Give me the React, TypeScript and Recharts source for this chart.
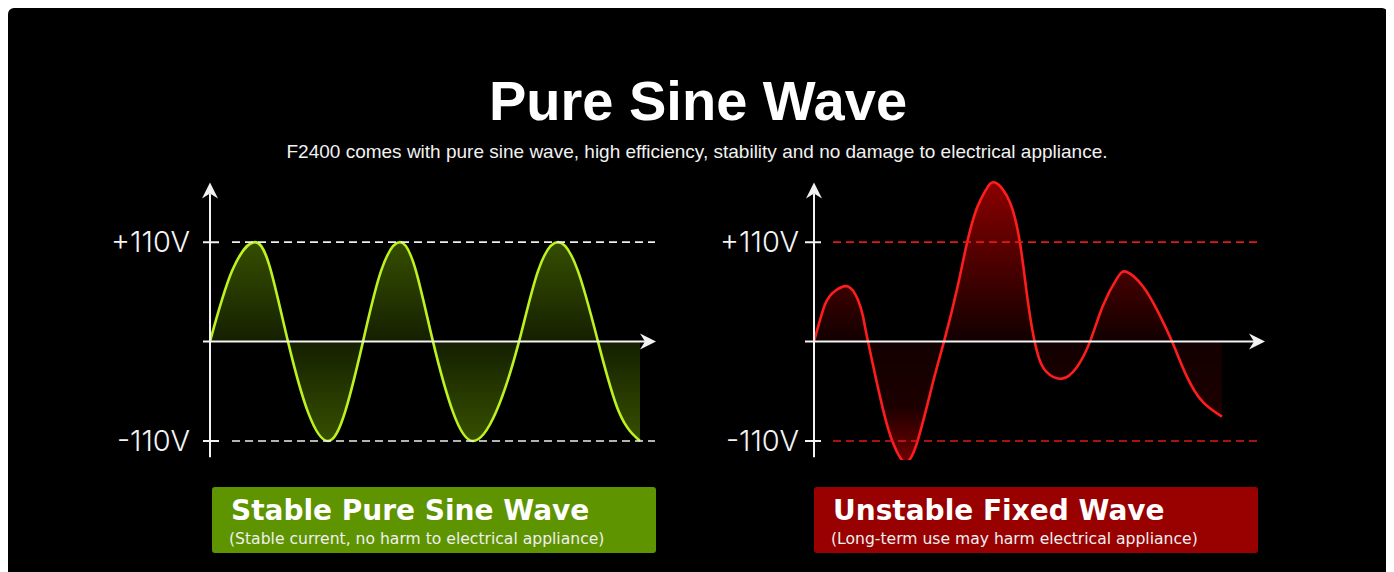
import {
  Area,
  ComposedChart,
  ReferenceLine,
  XAxis,
  YAxis,
} from "recharts";

// time offsets (px-like units from the vertical axis) and voltages
const SINE_T = [0, 22, 45, 61, 78, 98, 118, 135, 153, 171, 190, 206, 223, 243, 263, 286, 309, 328, 348, 368, 388, 409, 430];
const SINE_V = [0, 78, 110, 78, 0, -78, -110, -78, 0, 78, 110, 78, 0, -78, -110, -78, 0, 78, 110, 78, 0, -78, -110];

const RAW_T = [0, 11, 21, 34, 44, 49, 54, 69, 79, 90, 103, 119, 130, 143, 153, 163, 172, 181, 196, 206, 212, 218, 224, 232, 248, 263, 276, 289, 303, 313, 329, 343, 358, 373, 389, 408];
const RAW_V = [0, 41, 56, 61, 46, 28, 0, -75, -112, -133, -112, -45, 0, 58, 109, 148, 168, 176, 154, 109, 60, 15, -15, -33, -41, -28, 0, 40, 70, 77, 61, 35, 0, -39, -67, -83];

const Y_TICKS = [-110, 110];
const Y_DOMAIN: [number, number] = [-131, 181];
const Y_AXIS_RANGE = [-128, 176];

const sineRows = SINE_T.map((t, i) => ({ t, v: SINE_V[i] }));
const rawRows = RAW_T.map((t, i) => ({ t, v: RAW_V[i] }));

const fmtVolt = (v: number) => (v > 0 ? `+${v}V` : `${v}V`);

function ArrowLine(props: any) {
  const { x1, y1, x2, y2, stroke, strokeWidth } = props;
  const ang = Math.atan2(y2 - y1, x2 - x1);
  const ux = Math.cos(ang);
  const uy = Math.sin(ang);
  const px = -uy;
  const py = ux;
  const L = 16;
  const W = 8;
  const bx = x2 - ux * L;
  const by = y2 - uy * L;
  const nx = x2 - ux * (L - 5);
  const ny = y2 - uy * (L - 5);
  const d = `M${x2},${y2} L${bx + px * W},${by + py * W} L${nx},${ny} L${bx - px * W},${by - py * W} Z`;
  return (
    <g>
      <line x1={x1} y1={y1} x2={nx} y2={ny} stroke={stroke} strokeWidth={strokeWidth} />
      <path d={d} fill={stroke} />
    </g>
  );
}

interface WaveProps {
  rows: { t: number; v: number }[];
  xDomain: [number, number];
  left: number;
  gradId: string;
  stops: [number, string][];
  stroke: string;
  dashColor: string;
  dashFrom: number;
  dashTo: number;
  tickMargin: number;
}

function WaveChart({ rows, xDomain, left, gradId, stops, stroke, dashColor, dashFrom, dashTo, tickMargin }: WaveProps) {
  const axisColor = "#f2f2f2";
  const width = 100 + (xDomain[1] - xDomain[0]);
  return (
    <div style={{ position: "absolute", left, top: 170 }}>
      <ComposedChart width={width} height={282} data={rows} margin={{ top: 0, right: 0, bottom: 0, left: 0 }}>
        <defs>
          <linearGradient id={gradId} x1="0" y1="0" x2="0" y2="1">
            {stops.map(([o, c]) => (
              <stop key={o} offset={o} stopColor={c} />
            ))}
          </linearGradient>
        </defs>
        <XAxis type="number" dataKey="t" domain={xDomain} hide allowDataOverflow />
        <YAxis
          type="number"
          domain={Y_DOMAIN}
          ticks={Y_TICKS}
          width={100}
          axisLine={false}
          tickLine={false}
          tickSize={0}
          tickMargin={tickMargin}
          allowDataOverflow
          tickFormatter={fmtVolt}
          tick={{ fill: "#f4f4f4", fontSize: 29, fontFamily: "Inter, sans-serif", fontWeight: 300 }}
        />
        <Area
          type="natural"
          dataKey="v"
          baseValue={0}
          stroke={stroke}
          strokeWidth={2.6}
          fill={`url(#${gradId})`}
          fillOpacity={1}
          dot={false}
          activeDot={false}
          isAnimationActive={false}
        />
        {Y_TICKS.map((y) => (
          <ReferenceLine
            key={`d${y}`}
            segment={[{ x: dashFrom, y }, { x: dashTo, y }]}
            stroke={dashColor}
            strokeWidth={1.6}
            strokeDasharray="8 5"
            ifOverflow="visible"
          />
        ))}
        {Y_TICKS.map((y) => (
          <ReferenceLine
            key={`t${y}`}
            segment={[{ x: xDomain[0], y }, { x: xDomain[0] + 16, y }]}
            stroke={axisColor}
            strokeWidth={2}
            ifOverflow="visible"
          />
        ))}
        <ReferenceLine
          segment={[{ x: 0, y: Y_AXIS_RANGE[0] }, { x: 0, y: Y_AXIS_RANGE[1] }]}
          stroke={axisColor}
          strokeWidth={2}
          ifOverflow="visible"
          shape={ArrowLine}
        />
        <ReferenceLine
          segment={[{ x: xDomain[0], y: 0 }, { x: xDomain[1] - 4, y: 0 }]}
          stroke={axisColor}
          strokeWidth={2}
          ifOverflow="visible"
          shape={ArrowLine}
        />
      </ComposedChart>
    </div>
  );
}

function Badge({ left, bg, title, sub }: { left: number; bg: string; title: string; sub: string }) {
  return (
    <div
      style={{
        position: "absolute",
        left,
        top: 479,
        width: 444,
        height: 66,
        background: bg,
        borderRadius: 3,
        color: "#fff",
        fontFamily: "'DejaVu Sans', sans-serif",
      }}
    >
      <div style={{ position: "absolute", left: 19, top: 10, fontSize: 28, lineHeight: "28px", fontWeight: 700, whiteSpace: "nowrap" }}>
        {title}
      </div>
      <div style={{ position: "absolute", left: 17, top: 44, fontSize: 15.6, lineHeight: "16px", color: "#f0f0f0", whiteSpace: "nowrap" }}>
        {sub}
      </div>
    </div>
  );
}

export default function App() {
  return (
    <div
      style={{
        position: "relative",
        width: 1380,
        height: 580,
        background: "#000",
        borderRadius: 6,
        overflow: "hidden",
      }}
    >
      <div
        style={{
          position: "absolute",
          left: 0,
          width: 1380,
          top: 65,
          textAlign: "center",
          color: "#fff",
          fontFamily: "'Liberation Sans', Arial, sans-serif",
          fontWeight: 700,
          fontSize: 56,
          lineHeight: "56px",
        }}
      >
        Pure Sine Wave
      </div>
      <div
        style={{
          position: "absolute",
          left: 0,
          width: 1378,
          top: 134,
          textAlign: "center",
          color: "#f2f2f2",
          fontFamily: "'Liberation Sans', Arial, sans-serif",
          fontSize: 19,
          lineHeight: "19px",
        }}
      >
        F2400 comes with pure sine wave, high efficiency, stability and no damage to electrical appliance.
      </div>

      <WaveChart
        rows={sineRows}
        xDomain={[-7, 450]}
        left={95}
        gradId="greenFill"
        stops={[
          [0, "#344d00"],
          [0.25, "#263800"],
          [0.5, "#141f00"],
          [0.75, "#263800"],
          [1, "#364f00"],
        ]}
        stroke="#bef21e"
        dashColor="#eeeeee"
        dashFrom={22}
        dashTo={445}
        tickMargin={13}
      />
      <WaveChart
        rows={rawRows}
        xDomain={[-9, 455]}
        left={697}
        gradId="redFill"
        stops={[
          [0, "#8a0000"],
          [0.3, "#4a0000"],
          [0.57, "#120000"],
          [0.8, "#1c0000"],
          [1, "#720000"],
        ]}
        stroke="#ff1c1c"
        dashColor="#e01818"
        dashFrom={19}
        dashTo={446}
        tickMargin={6}
      />

      <Badge
        left={204}
        bg="#5e9400"
        title="Stable Pure Sine Wave"
        sub="(Stable current, no harm to electrical appliance)"
      />
      <Badge
        left={806}
        bg="#990000"
        title="Unstable Fixed Wave"
        sub="(Long-term use may harm electrical appliance)"
      />
    </div>
  );
}
